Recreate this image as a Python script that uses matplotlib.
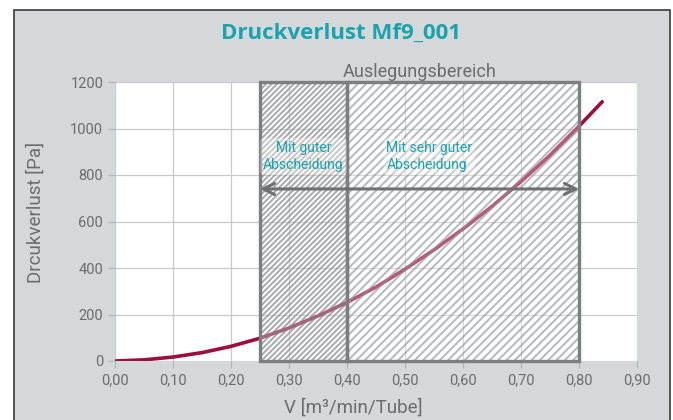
import matplotlib
matplotlib.use("Agg")
import matplotlib.pyplot as plt
from matplotlib.patches import Rectangle

# ---- data ----
flow = [0.00, 0.05, 0.10, 0.15, 0.20, 0.25, 0.30, 0.35, 0.40, 0.45, 0.50,
        0.55, 0.60, 0.65, 0.70, 0.75, 0.80, 0.84]
pressure = [0, 5, 17, 36, 63, 98, 142, 194, 252, 318, 395,
            478, 568, 665, 772, 885, 1010, 1115]
x_ticks = [0.0, 0.1, 0.2, 0.3, 0.4, 0.5, 0.6, 0.7, 0.8, 0.9]
x_tick_labels = ["0,00", "0,10", "0,20", "0,30", "0,40", "0,50", "0,60", "0,70", "0,80", "0,90"]
y_ticks = [0, 200, 400, 600, 800, 1000, 1200]
range_good = (0.25, 0.40)
range_very_good = (0.40, 0.80)
arrow_level = 740

title = "Druckverlust Mf9_001"
xlabel = "V [m³/min/Tube]"
ylabel = "Drcukverlust [Pa]"

TEAL = "#1ba3ad"
GREY_TXT = "#6a6c6e"
BG = "#d5d8da"
CURVE = "#9a0f3e"

plt.rcParams["font.family"] = ["Roboto", "DejaVu Sans"]
plt.rcParams["hatch.linewidth"] = 1.5

fig = plt.figure(figsize=(6.73, 4.20), dpi=100)
fig.patch.set_facecolor("white")
# grey panel with dark border
fig.patches.append(Rectangle((14 / 673, -0.05), (670 - 14) / 673, (420 - 10) / 420 + 0.05,
                             transform=fig.transFigure, facecolor=BG,
                             edgecolor="#3a3a3a", linewidth=1.2, zorder=-10))

ax = fig.add_axes([115 / 673, (420 - 361) / 420, (637 - 115) / 673, (361 - 82) / 420])
ax.set_facecolor("white")
ax.set_xlim(0, 0.9)
ax.set_ylim(0, 1200)
ax.set_xticks(x_ticks)
ax.set_xticklabels(x_tick_labels)
ax.set_yticks(y_ticks)
ax.grid(True, color="#c9c9c9", linewidth=0.9)
ax.set_axisbelow(True)
for s in ax.spines.values():
    s.set_visible(False)
ax.tick_params(axis="both", colors="#b5b5b5", labelcolor=GREY_TXT, labelsize=10.5,
               length=5, width=0.9)
ax.tick_params(axis="x", pad=4)

# curve
ax.plot(flow, pressure, color=CURVE, linewidth=2.6, solid_capstyle="round", zorder=2)

# translucent overlay over the design range
ax.add_patch(Rectangle((range_good[0], 0), range_very_good[1] - range_good[0], 1200,
                       facecolor="white", alpha=0.3, linewidth=0, zorder=3))
# hatches (semi-transparent lines)
ax.add_patch(Rectangle((range_good[0], 0), range_good[1] - range_good[0], 1200,
                       facecolor="none", edgecolor=(0.50, 0.51, 0.52, 0.65),
                       hatch="//////", linewidth=0, zorder=4))
ax.add_patch(Rectangle((range_very_good[0], 0), range_very_good[1] - range_very_good[0], 1200,
                       facecolor="none", edgecolor=(0.55, 0.56, 0.57, 0.6),
                       hatch="////", linewidth=0, zorder=4))
# borders
for r in (range_good, range_very_good):
    ax.add_patch(Rectangle((r[0], 0), r[1] - r[0], 1200, facecolor="none",
                           edgecolor="#7c7e80", linewidth=2.4, zorder=5, clip_on=False))

# arrow
ax.annotate("", xy=(range_very_good[1], arrow_level), xytext=(range_good[0], arrow_level),
            arrowprops=dict(arrowstyle="<->,head_length=0.8,head_width=0.4",
                            color="#6e7072", linewidth=2.2, shrinkA=0, shrinkB=0), zorder=6)

box = dict(boxstyle="round,pad=0.2", facecolor="white", alpha=0.35, edgecolor="none")
ax.text(0.325, 880, "Mit guter\nAbscheidung", color=TEAL, fontsize=10,
        ha="center", va="center", linespacing=1.25, zorder=7, bbox=box)
ax.text(0.468, 880, "Mit sehr guter\nAbscheidung", color=TEAL, fontsize=10,
        ha="left", va="center", linespacing=1.25, zorder=7, bbox=box)
ax.text(0.525, 1206, "Auslegungsbereich", color=GREY_TXT, fontsize=13,
        ha="center", va="bottom")

ax.set_xlabel(xlabel, color=GREY_TXT, fontsize=13.5)
ax.xaxis.set_label_coords(0.456, -0.135)
ax.set_ylabel(ylabel, color=GREY_TXT, fontsize=13.5)
ax.yaxis.set_label_coords(-0.135, 0.534)

fig.text(341 / 673, 1 - 33 / 420, title, color=TEAL, fontsize=16, fontweight="bold",
         family=["Open Sans", "DejaVu Sans"], ha="center", va="center")

fig.savefig("out.png", dpi=100, facecolor=fig.get_facecolor())
